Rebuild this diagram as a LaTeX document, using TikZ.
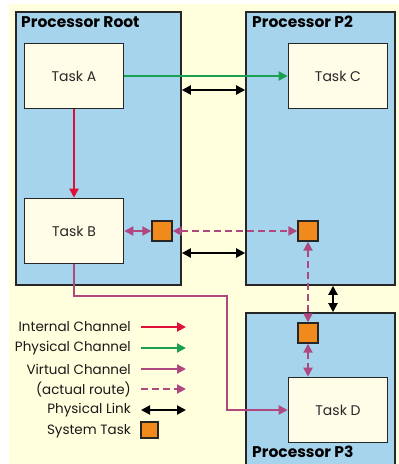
\documentclass[tikz,border=0pt]{standalone}
\usepackage{fontspec}
\setmainfont{Poppins}
\usetikzlibrary{arrows.meta,positioning}
\definecolor{bgyellow}{RGB}{255,255,222}
\definecolor{taskfill}{RGB}{255,252,232}
\definecolor{procblue}{RGB}{166,212,236}
\definecolor{chred}{RGB}{222,16,58}
\definecolor{chgreen}{RGB}{26,160,80}
\definecolor{chpurple}{RGB}{176,72,128}
\definecolor{sysorange}{RGB}{240,138,28}
\definecolor{textgray}{RGB}{40,40,40}
\tikzset{
  proc/.style={draw=black!85, line width=1.6pt, fill=procblue, rectangle, inner sep=0pt},
  taskbox/.style={draw=black!85, line width=1.6pt, fill=taskfill, rectangle, inner sep=0pt,
    minimum width=99pt, minimum height=65pt, font=\fontsize{14}{16}\selectfont, text=textgray},
  systask/.style={draw=black!85, line width=1.4pt, fill=sysorange, rectangle, inner sep=0pt,
    minimum width=20pt, minimum height=20pt},
  proclabel/.style={font=\bfseries\fontsize{15.5}{17}\selectfont, anchor=west, inner sep=0pt},
  internal/.style={draw=chred, line width=2pt, -{Triangle[length=9pt,width=9pt]}},
  physch/.style={draw=chgreen, line width=2pt, -{Triangle[length=9pt,width=9pt]}},
  virt/.style={draw=chpurple, line width=2pt, -{Triangle[length=9pt,width=9pt]}},
  virtboth/.style={draw=chpurple, line width=2pt, {Triangle[length=9pt,width=9pt]}-{Triangle[length=9pt,width=9pt]}},
  route/.style={draw=chpurple, line width=2pt, dash pattern=on 7pt off 4pt, {Triangle[length=9pt,width=9pt]}-{Triangle[length=9pt,width=9pt]}},
  routeone/.style={draw=chpurple, line width=2pt, dash pattern=on 7pt off 4pt, -{Triangle[length=9pt,width=9pt]}},
  physlink/.style={draw=black, line width=2pt, {Triangle[length=9pt,width=9pt]}-{Triangle[length=9pt,width=9pt]}},
  legtext/.style={anchor=east, inner sep=0pt, font=\fontsize{13.5}{15}\selectfont, text=black!90},
}
\begin{document}
\begin{tikzpicture}[x=1pt,y=-1pt]
\useasboundingbox (0,0) rectangle (399,464);
\clip (0,0) rectangle (399,464);
\fill[bgyellow] (9,4) rectangle (399,464);

% processors
\node[proc, minimum width=165pt, minimum height=273pt] (root) at (98.5,148.5) {};
\node[proc, minimum width=149pt, minimum height=273pt] (p2) at (320.5,148.5) {};
\node[proc, minimum width=149pt, minimum height=170pt] (p3) at (320.5,398) {};

\node[proclabel] (rootlbl) at (21,22) {Processor Root};
\node[proclabel] (p2lbl) at (252,22) {Processor P2};
\node[proclabel] (p3lbl) at (252,452) {Processor P3};

% tasks
\node[taskbox] (taskA) at (74,76) {Task A};
\node[taskbox] (taskC) at (338,76) {Task C};
\node[taskbox] (taskB) at (74,231) {Task B};
\node[taskbox] (taskD) at (338,410) {Task D};

% system tasks
\node[systask] (sysR) at (162,231) {};
\node[systask] (sysP2) at (308,231) {};
\node[systask] (sysP3) at (308,333) {};

% channels
\draw[internal] (taskA) -- (taskB);
\draw[physch] (taskA) -- (taskC);
\draw[virtboth] (taskB) -- (sysR);
\draw[route] (sysR) -- (sysP2);
\draw[route] (sysP2) -- (sysP3);
\draw[route] (sysP3.south) -- (sysP3.south |- taskD.north);
\coordinate (bend1) at (227,296);
\draw[virt] (taskB.south) |- (bend1) |- (taskD.west);

% physical links
\coordinate (ltop) at (0,90);
\coordinate (lbot) at (0,253);
\coordinate (lvert) at (333,0);
\draw[physlink] (root.east |- ltop) -- (p2.west |- ltop);
\draw[physlink] (root.east |- lbot) -- (p2.west |- lbot);
\draw[physlink] (p2.south -| lvert) -- (p3.north -| lvert);

% legend
\node[legtext] (lg1) at (131,327) {Internal Channel};
\node[legtext] (lg2) at (131,348) {Physical Channel};
\node[legtext] (lg3) at (131,369) {Virtual Channel};
\node[legtext] (lg4) at (131,389) {(actual route)};
\node[legtext] (lg5) at (131,410) {Physical Link};
\node[legtext] (lg6) at (131,431) {System Task};
\coordinate (a1s) at (141,327); \coordinate (a1e) at (186,327);
\coordinate (a2s) at (141,348); \coordinate (a2e) at (186,348);
\coordinate (a3s) at (141,369); \coordinate (a3e) at (186,369);
\coordinate (a4s) at (141,389); \coordinate (a4e) at (186,389);
\coordinate (a5s) at (141,410); \coordinate (a5e) at (186,410);
\draw[internal] (a1s) -- (a1e);
\draw[physch] (a2s) -- (a2e);
\draw[virt] (a3s) -- (a3e);
\draw[routeone] (a4s) -- (a4e);
\draw[physlink] (a5s) -- (a5e);
\node[systask, minimum width=17pt, minimum height=16pt] (lgsys) at (149.5,430) {};
\end{tikzpicture}
\end{document}
